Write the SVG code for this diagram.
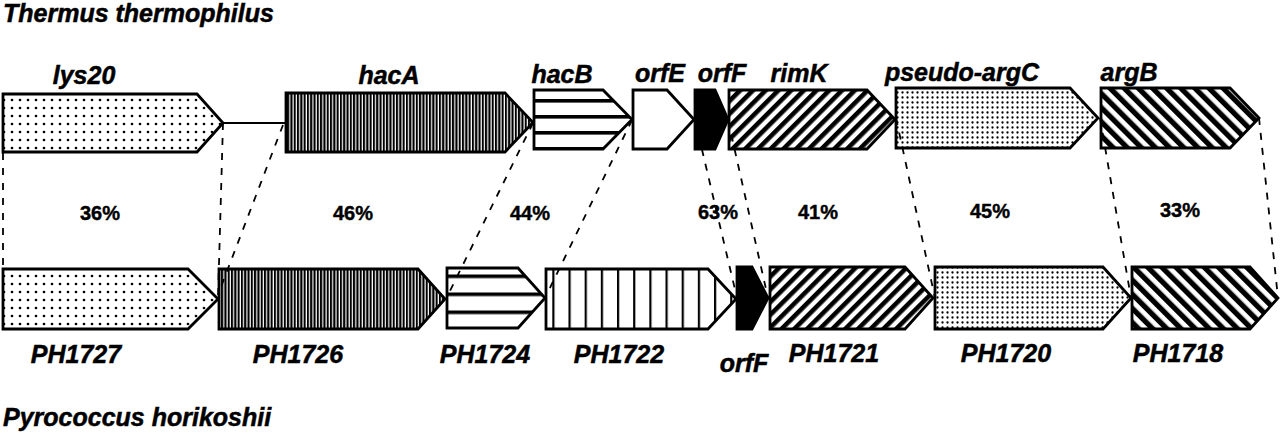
<svg xmlns="http://www.w3.org/2000/svg" width="1280" height="436" viewBox="0 0 1280 436">
<style>
.lab{font-family:"Liberation Sans",Arial,sans-serif;font-weight:bold;font-style:italic;font-size:25px;fill:#000;stroke:#000;stroke-width:0.5;text-anchor:middle}
.org{font-family:"Liberation Sans",Arial,sans-serif;font-weight:bold;font-style:italic;font-size:25px;fill:#000;stroke:#000;stroke-width:0.5}
.pct{font-family:"Liberation Sans",Arial,sans-serif;font-weight:bold;font-size:20px;fill:#000;stroke:#000;stroke-width:0.4;text-anchor:middle}
.gene{stroke:#000;stroke-width:2.8;stroke-linejoin:miter}
.dash{fill:none;stroke:#000;stroke-width:1.8;stroke-dasharray:7 8}
</style>
<defs>
<pattern id="dotS" patternUnits="userSpaceOnUse" width="8" height="8"><rect width="8" height="8" fill="#fff"/><circle cx="4" cy="4" r="1.35" fill="#000"/></pattern>
<pattern id="dotD" patternUnits="userSpaceOnUse" width="5" height="5"><rect width="5" height="5" fill="#fff"/><circle cx="2.5" cy="2.5" r="1.15" fill="#000"/></pattern>
<pattern id="vDense" patternUnits="userSpaceOnUse" width="3.3" height="10"><rect width="3.3" height="10" fill="#fff"/><rect x="0" width="2.1" height="10" fill="#000"/></pattern>
<pattern id="vWide" patternUnits="userSpaceOnUse" width="16.17" height="10" patternTransform="translate(552.3,0)"><rect width="16.17" height="10" fill="#fff"/><rect x="0" width="2.2" height="10" fill="#000"/></pattern>
<pattern id="hTop" patternUnits="userSpaceOnUse" width="10" height="16" patternTransform="translate(0,99)"><rect width="10" height="16" fill="#fff"/><rect y="0" width="10" height="3.6" fill="#000"/></pattern>
<pattern id="hBot" patternUnits="userSpaceOnUse" width="10" height="18" patternTransform="translate(0,274.5)"><rect width="10" height="18" fill="#fff"/><rect y="0" width="10" height="3.6" fill="#000"/></pattern>
<pattern id="dFwd" patternUnits="userSpaceOnUse" width="9" height="10" patternTransform="rotate(45)"><rect width="9" height="10" fill="#fff"/><rect width="4.6" height="10" fill="#000"/></pattern>
<pattern id="dBack" patternUnits="userSpaceOnUse" width="10" height="10" patternTransform="rotate(-45)"><rect width="10" height="10" fill="#fff"/><rect width="5.3" height="10" fill="#000"/></pattern>
</defs>
<rect width="1280" height="436" fill="#fff"/>

<text class="org" x="3" y="22">Thermus thermophilus</text>
<text class="org" x="3" y="426">Pyrococcus horikoshii</text>

<g id="lys20"><polygon class="gene" fill="url(#dotS)" points="3,94 197,94 223,123 197,152 3,152"/><text class="lab" x="84" y="84">lys20</text></g>
<g id="hacA"><polygon class="gene" fill="url(#vDense)" points="286,93 505,93 533,122.5 505,152 286,152"/><text class="lab" x="389" y="84">hacA</text></g>
<g id="hacB"><polygon class="gene" fill="url(#hTop)" points="534,90 603,90 632,119.5 603,149 534,149"/><text class="lab" x="562" y="83">hacB</text></g>
<g id="orfE"><polygon class="gene" fill="#fff" points="633,90 667,90 694,119.5 667,149 633,149"/><text class="lab" x="660" y="82">orfE</text></g>
<g id="orfF-top"><polygon class="gene" fill="#000" points="695,90 715,90 728,119.5 715,149 695,149"/><text class="lab" x="722" y="82">orfF</text></g>
<g id="rimK"><polygon class="gene" fill="url(#dFwd)" points="729,90 867,90 895,119.5 867,149 729,149"/><text class="lab" x="799" y="82">rimK</text></g>
<g id="pseudo-argC"><polygon class="gene" fill="url(#dotD)" points="896,88 1070,88 1098,118 1070,148 896,148"/><text class="lab" x="962" y="81">pseudo-argC</text></g>
<g id="argB"><polygon class="gene" fill="url(#dBack)" points="1101,88 1230,88 1259,118 1230,148 1101,148"/><text class="lab" x="1129" y="81">argB</text></g>

<g id="PH1727"><polygon class="gene" fill="url(#dotS)" points="3,269 188,269 218,299 188,329 3,329"/><text class="lab" x="76" y="363">PH1727</text></g>
<g id="PH1726"><polygon class="gene" fill="url(#vDense)" points="219,269 418,269 445,299 418,329 219,329"/><text class="lab" x="298" y="363">PH1726</text></g>
<g id="PH1724"><polygon class="gene" fill="url(#hBot)" points="447,268 518,268 545,298 518,328 447,328"/><text class="lab" x="485" y="363">PH1724</text></g>
<g id="PH1722"><polygon class="gene" fill="url(#vWide)" points="546,269 708,269 736,299 708,329 546,329"/><text class="lab" x="619" y="363">PH1722</text></g>
<g id="orfF-bottom"><polygon class="gene" fill="#000" points="737,267 752,267 768,298 752,329 737,329"/><text class="lab" x="744" y="372">orfF</text></g>
<g id="PH1721"><polygon class="gene" fill="url(#dFwd)" points="770,267 905,267 933,298 905,329 770,329"/><text class="lab" x="834" y="362">PH1721</text></g>
<g id="PH1720"><polygon class="gene" fill="url(#dotD)" points="935,267 1103,267 1131,298 1103,329 935,329"/><text class="lab" x="1006" y="362">PH1720</text></g>
<g id="PH1718"><polygon class="gene" fill="url(#dBack)" points="1132,267 1250,267 1278,298 1250,329 1132,329"/><text class="lab" x="1178" y="362">PH1718</text></g>

<g id="connectors">
<line x1="223" y1="123" x2="286" y2="123" stroke="#000" stroke-width="2"/>
<line class="dash" x1="3" y1="123" x2="3" y2="299"/>
<line class="dash" x1="223" y1="123" x2="218" y2="299"/>
<line class="dash" x1="283" y1="125" x2="219" y2="292"/>
<line class="dash" x1="533" y1="123" x2="446" y2="299"/>
<line class="dash" x1="632" y1="120" x2="545" y2="298"/>
<line class="dash" x1="695" y1="120" x2="737" y2="298"/>
<line class="dash" x1="728" y1="120" x2="768" y2="298"/>
<line class="dash" x1="896" y1="118" x2="935" y2="298"/>
<line class="dash" x1="1100" y1="118" x2="1131" y2="298"/>
<line class="dash" x1="1259" y1="118" x2="1278" y2="298"/>
</g>

<g id="identities">
<text class="pct" x="100" y="220">36%</text>
<text class="pct" x="353" y="220">46%</text>
<text class="pct" x="530" y="220">44%</text>
<text class="pct" x="718" y="219">63%</text>
<text class="pct" x="818" y="219">41%</text>
<text class="pct" x="990" y="218">45%</text>
<text class="pct" x="1180" y="217">33%</text>
</g>
</svg>
